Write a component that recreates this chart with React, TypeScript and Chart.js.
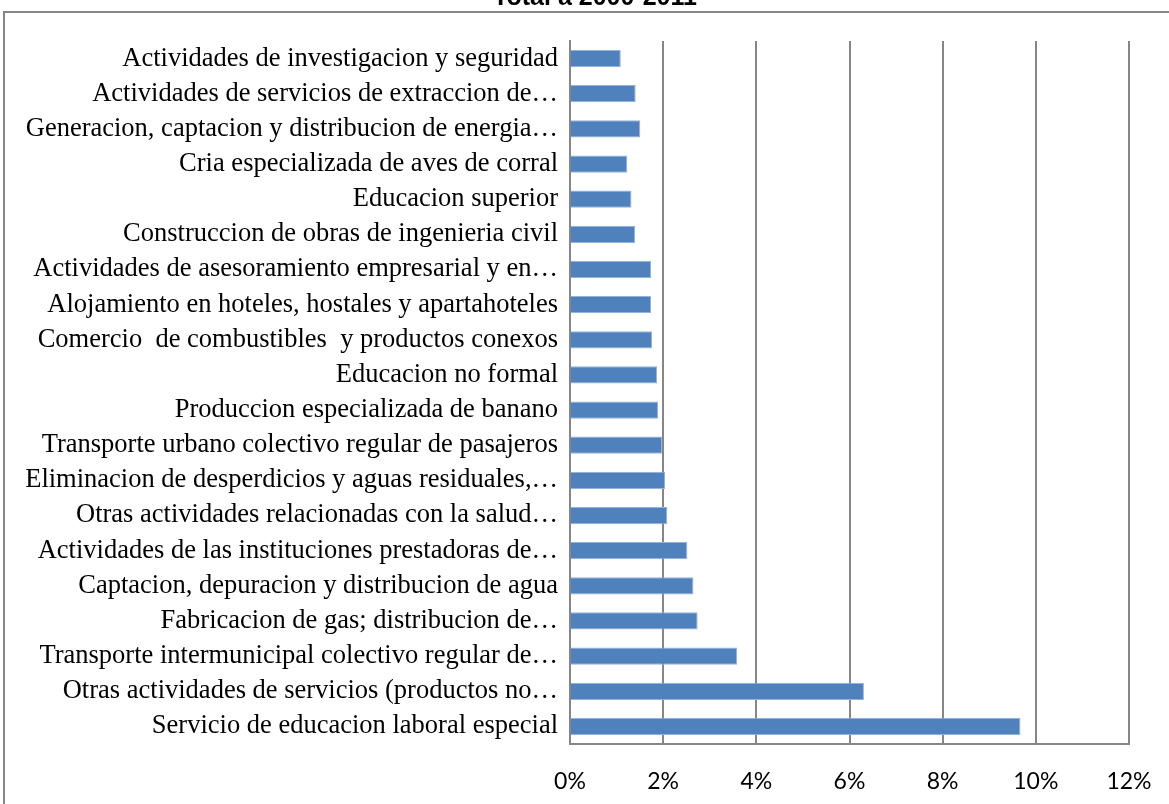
import React, { useEffect, useRef } from "react";
import { Chart, registerables } from "chart.js";

Chart.register(...registerables);

const categories: string[] = [
  "Actividades de investigacion y seguridad",
  "Actividades de servicios de extraccion de…",
  "Generacion, captacion y distribucion de energia…",
  "Cria especializada de aves de corral",
  "Educacion superior",
  "Construccion de obras de ingenieria civil",
  "Actividades de asesoramiento empresarial y en…",
  "Alojamiento en hoteles, hostales y apartahoteles",
  "Comercio  de combustibles  y productos conexos",
  "Educacion no formal",
  "Produccion especializada de banano",
  "Transporte urbano colectivo regular de pasajeros",
  "Eliminacion de desperdicios y aguas residuales,…",
  "Otras actividades relacionadas con la salud…",
  "Actividades de las instituciones prestadoras de…",
  "Captacion, depuracion y distribucion de agua",
  "Fabricacion de gas; distribucion de…",
  "Transporte intermunicipal colectivo regular de…",
  "Otras actividades de servicios (productos no…",
  "Servicio de educacion laboral especial",
];

const values: number[] = [
  1.09, 1.41, 1.51, 1.23, 1.32, 1.4, 1.74, 1.74, 1.76, 1.87,
  1.89, 1.98, 2.04, 2.09, 2.52, 2.65, 2.74, 3.59, 6.31, 9.67,
];

const xTicks: number[] = [0, 2, 4, 6, 8, 10, 12];
const titleText = "Total a 2000-2011";

const framePlugin = {
  id: "frameAndTitle",
  beforeDraw(chart: any) {
    const ctx = chart.ctx;
    ctx.save();
    ctx.fillStyle = "#ffffff";
    ctx.fillRect(0, 0, chart.width, chart.height);
    ctx.strokeStyle = "#868686";
    ctx.lineWidth = 2;
    ctx.beginPath();
    ctx.moveTo(4, chart.height + 5);
    ctx.lineTo(4, 12);
    ctx.lineTo(chart.width + 5, 12);
    ctx.stroke();
    ctx.restore();
  },
  afterDraw(chart: any) {
    const ctx = chart.ctx;
    ctx.save();
    ctx.fillStyle = "#000000";
    ctx.font = "bold 25px 'Liberation Sans', Arial, sans-serif";
    ctx.textAlign = "center";
    ctx.textBaseline = "alphabetic";
    ctx.fillText(titleText, 595, 5);
    ctx.restore();
  },
};

export default function App() {
  const canvasRef = useRef<HTMLCanvasElement | null>(null);

  useEffect(() => {
    if (!canvasRef.current) return;
    const chart = new Chart(canvasRef.current, {
      type: "bar",
      data: {
        labels: categories,
        datasets: [
          {
            data: values,
            backgroundColor: "#4F81BD",
            borderColor: "#93B3DB",
            borderWidth: 1,
            categoryPercentage: 1,
            barPercentage: 0.49,
          },
        ],
      },
      plugins: [framePlugin],
      options: {
        indexAxis: "y",
        responsive: false,
        animation: false,
        layout: { padding: { top: 41, right: 40, left: 0, bottom: 0 } },
        plugins: {
          legend: { display: false },
          tooltip: { enabled: false },
          title: { display: false },
        },
        scales: {
          x: {
            min: 0,
            max: 12,
            afterBuildTicks: (scale: any) => {
              scale.ticks = xTicks.map((v) => ({ value: v }));
            },
            afterFit: (scale: any) => {
              scale.height = 60;
              scale.paddingLeft = 0;
              scale.paddingRight = 0;
            },
            ticks: {
              callback: (v: any) => `${v}%`,
              color: "#000000",
              font: { family: "Lato, 'Open Sans', sans-serif", size: 23 },
              padding: 24,
            },
            grid: {
              color: "#868686",
              lineWidth: 2,
              drawTicks: false,
            },
            border: { display: true, color: "#868686", width: 2 },
          },
          y: {
            afterFit: (scale: any) => {
              scale.width = 570;
            },
            ticks: {
              color: "#000000",
              font: { family: "'Liberation Serif', 'Times New Roman', serif", size: 26.5 },
              padding: 12,
              autoSkip: false,
            },
            grid: { display: false, drawTicks: false },
            border: { display: true, color: "#868686", width: 2 },
          },
        },
      },
    });
    return () => chart.destroy();
  }, []);

  return (
    <div style={{ position: "absolute", left: 0, top: 0, width: 1169, height: 804, background: "#fff" }}>
      <canvas ref={canvasRef} width={1169} height={804} style={{ display: "block" }} />
    </div>
  );
}
